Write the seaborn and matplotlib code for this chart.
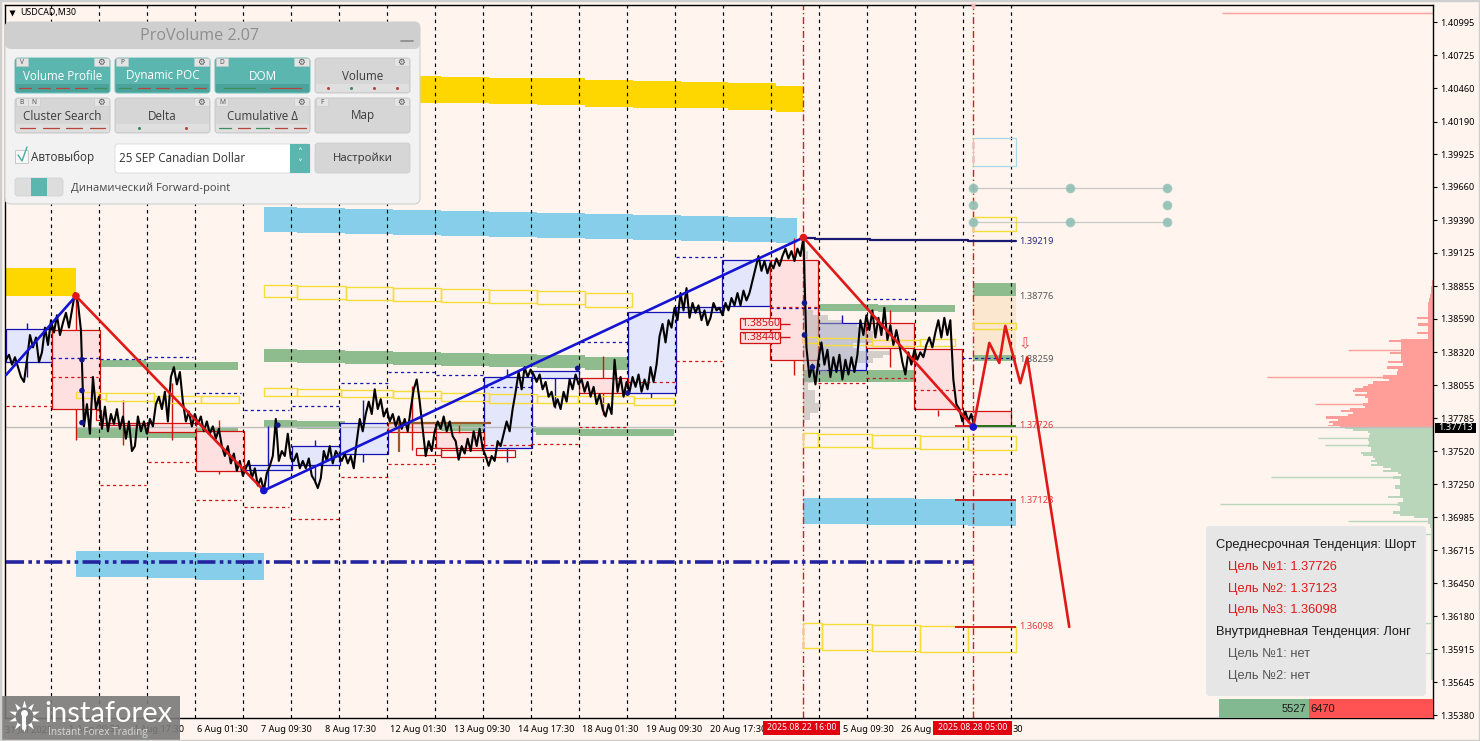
"""USDCAD M30 chart with ProVolume panel, levels, profile and forecast path."""

import matplotlib
matplotlib.use("Agg")
import matplotlib.pyplot as plt
import numpy as np
import seaborn as sns
from matplotlib.patches import FancyBboxPatch, Rectangle

# all price data below is in points above 1.3000 (1 point = 0.0001)
# close every 3 bars, first bar is 5
close_pts = [
    826, 830, 822, 828, 820, 812, 808, 826, 846, 836, 844, 824, 832, 852, 838, 858, 848, 862, 846, 856,
    864, 852, 866, 880, 872, 850, 772, 790, 766, 812, 786, 796, 770, 788, 768, 782, 774, 786, 770, 780,
    762, 776, 752, 756, 780, 768, 776, 766, 778, 772, 790, 796, 786, 800, 776, 812, 820, 806, 816, 792,
    776, 784, 772, 782, 774, 780, 768, 776, 766, 772, 762, 770, 756, 748, 756, 742, 750, 736, 744, 732,
    738, 744, 730, 738, 724, 730, 720, 734, 740, 748, 778, 744, 752, 748, 766, 746, 744, 750, 738, 744,
    738, 746, 732, 728, 722, 730, 752, 744, 756, 742, 752, 748, 744, 750, 742, 748, 738, 760, 778, 768,
    782, 792, 782, 802, 786, 794, 780, 786, 776, 782, 772, 780, 770, 778, 768, 786, 802, 810, 792, 770,
    748, 760, 752, 768, 776, 770, 780, 768, 776, 764, 760, 745, 756, 750, 762, 752, 768, 756, 770, 754,
    748, 740, 748, 744, 760, 756, 766, 776, 768, 786, 800, 816, 802, 820, 812, 818, 814, 808, 814, 802,
    808, 796, 800, 788, 794, 786, 800, 792, 810, 802, 814, 806, 810, 800, 808, 796, 804, 790, 798, 786,
    780, 790, 782, 826, 800, 812, 796, 808, 800, 812, 804, 814, 800, 810, 802, 820, 808, 822, 845, 855,
    840, 858, 852, 868, 858, 880, 866, 884, 860, 872, 864, 870, 858, 866, 854, 860, 872, 866, 868, 862,
    872, 866, 876, 870, 880, 870, 882, 874, 880, 890, 900, 910, 898, 906, 896, 904, 900, 908, 902, 910,
    916, 908, 914, 906, 916, 910, 925, 836, 812, 822, 806, 826, 840, 822, 834, 812, 828, 816, 830, 810,
    826, 814, 828, 816, 830, 858, 846, 862, 850, 866, 844, 860, 846, 868, 842, 854, 838, 850, 838, 824,
    814, 832, 822, 834, 826, 832, 828, 838, 844, 836, 848, 858, 844, 860, 846, 858, 810, 790, 786, 776,
    784, 776, 782, 772,
]

# bands and boxes: first bar, last bar, upper points, lower points
gold_bands = [
    (263, 296, 1058, 1037), (296, 344, 1057, 1036), (344, 392, 1056, 1035), (392, 440, 1056, 1034),
    (440, 488, 1055, 1034), (488, 536, 1054, 1033), (536, 584, 1054, 1032), (584, 632, 1053, 1031),
    (632, 680, 1052, 1030), (680, 728, 1051, 1030), (728, 776, 1050, 1028), (776, 803, 1048, 1027),
    (5, 75, 900, 878),
]
sky_bands = [
    (263, 296, 950, 929.5), (296, 344, 949, 929), (344, 392, 948, 928), (392, 440, 947, 927),
    (440, 488, 946.5, 926.5), (488, 536, 946, 925.5), (536, 584, 945, 925), (584, 632, 944, 924),
    (632, 680, 943, 923), (680, 728, 942.5, 922), (728, 776, 942, 921), (776, 797, 941, 920.5),
    (803, 866, 714, 693), (866, 914, 714, 692), (914, 968, 713, 692), (968, 1016, 712, 691),
    (75, 147, 671, 650), (147, 195, 670, 649), (195, 263, 669.5, 647.5),
]
green_bands = [
    (263, 296, 835, 824), (296, 344, 834, 823), (344, 392, 833, 822.5), (392, 440, 832, 822),
    (440, 488, 831.5, 821), (488, 536, 831, 820), (536, 584, 830, 819), (584, 632, 828, 818),
    (632, 673, 827.5, 816),
    (263, 296, 777, 771), (296, 344, 776, 770), (344, 440, 775, 769), (440, 488, 774, 768),
    (488, 535, 772, 767.5), (535, 578, 771, 765), (578, 673, 770, 764.5),
    (75, 145, 826, 820), (145, 237, 824, 818), (75, 195, 771.5, 762.5), (195, 237, 771, 761),
    (803, 878, 871, 865.5), (878, 955, 870, 865), (803, 915, 818, 808), (915, 953, 817, 806.5),
    (973, 1016, 888, 877.5), (973, 1016, 830, 825),
]
orange_bands = [(973, 1016, 877.5, 830)]
yellow_boxes = [
    (263, 296, 886.5, 877), (296, 345, 886, 875), (345, 392, 885, 874), (392, 440, 884, 873.5),
    (440, 488, 883, 873), (488, 536, 882.5, 872), (536, 584, 882, 871), (584, 631, 880, 869),
    (263, 296, 803, 797), (296, 340, 802, 796.5), (340, 392, 801.5, 796), (392, 440, 801, 795),
    (440, 488, 799, 792.5), (488, 536, 798, 791), (536, 577, 797, 791), (577, 633, 796.5, 791),
    (633, 673, 795, 789.5),
    (75, 97, 800, 795), (97, 105, 799, 794), (105, 153, 799, 792.5), (153, 200, 797, 791), (200, 238, 797, 791),
    (803, 818, 844.5, 839.5), (818, 872, 843.5, 838), (872, 920, 842, 837), (920, 955, 843, 837),
    (803, 818, 767, 755.5), (818, 872, 766, 755.5), (872, 920, 765, 754.5), (920, 968, 764, 753.5),
    (968, 1016, 764, 753),
    (803, 822, 613, 592.5), (822, 872, 612, 591), (872, 920, 611, 590), (920, 968, 610, 589),
    (968, 1016, 609.5, 589),
    (973, 1016, 941.5, 930), (973, 1016, 856, 851),
]
pale_blue_boxes = [(973, 1016, 1005.7, 983)]
blue_days = [
    (5, 51, 851, 824), (243, 291, 740.7, 736.7), (291, 339, 756, 741), (339, 387, 775, 750),
    (483, 531, 812, 754.5), (531, 578, 817, 811), (627, 675, 865, 799), (675, 722, 869, 865),
    (722, 770, 907, 869.5), (818, 866, 856, 818),
]
red_days = [
    (51, 99, 850, 786), (99, 147, 775, 773), (147, 195, 775, 767.5), (195, 243, 768, 736),
    (387, 435, 775, 767.5), (435, 483, 767.5, 754.5), (578, 627, 811, 799), (770, 818, 907, 826),
    (866, 914, 856, 835.5), (914, 962, 835, 786), (963, 1011, 784.5, 772),
]
red_hollow = [(415, 440, 754.5, 749), (440, 514, 753, 747), (95, 100, 785, 777)]
label_boxes = [(740, 780, 859.8, 850.9), (740, 780, 848.5, 839.6)]

# wicks: bar, upper points, lower points
red_wicks = [
    (75, 878, 850), (75, 786, 761), (122, 793, 757), (171, 807, 761), (218, 777, 768), (218, 736, 733.5),
    (411, 805, 753), (458, 773, 767), (602, 829, 811), (602, 799, 781), (794, 925, 907), (794, 826, 813.5),
    (890, 866, 856), (890, 835.5, 820), (938, 785, 780),
]
blue_wicks = [
    (26, 856, 851), (26, 824, 812), (267, 772, 741), (267, 737, 722), (314, 761, 756), (314, 741, 726),
    (362, 793, 775), (362, 750, 743), (506, 818.5, 812), (506, 754.5, 743), (554, 811, 787), (650, 799, 795),
    (842, 862, 856), (842, 818, 815.5),
]

# short dashed levels: first bar, last bar, points
blue_dashes = [
    (51, 97, 827.4), (99, 145, 826.6), (147, 192, 828), (195, 240, 799), (243, 288, 785), (291, 338, 788.5),
    (340, 387, 807), (387, 435, 816), (435, 483, 813.5), (483, 530, 804), (580, 627, 840.4), (675, 722, 909),
    (867, 914, 875), (770, 818, 868), (962, 1016, 827.5),
]
red_dashes = [
    (5, 51, 788.5), (51, 97, 812), (99, 145, 724.5), (147, 192, 743), (195, 240, 712), (243, 288, 707),
    (291, 338, 697), (340, 387, 731), (387, 435, 741.5), (483, 530, 757), (530, 578, 758), (578, 627, 771.5),
    (627, 675, 808), (675, 722, 825), (770, 818, 868.5), (818, 866, 807), (866, 914, 811), (914, 962, 801.5),
    (973, 1010, 733),
]

# trend legs and forecast path
blue_leg_a = ([5, 75], [813.6, 877.6])
blue_leg_b = ([263, 803], [720, 925])
red_leg_a = ([75, 263], [877.6, 720])
red_leg_b = ([803, 973, 989, 999, 1005, 1020, 1027, 1069], [925, 771.5, 839.6, 823.4, 853.4, 807, 828, 609.5])
navy_bars = [803, 815, 870, 968, 1016]
navy_pts = [924.6, 923.8, 923, 922, 922]
navy_dots = ([81, 81, 81, 277, 804, 804, 812, 577, 627], [826, 801, 775, 773, 872, 846, 820, 819, 799])
pivot_dots = ([973, 1070, 1167, 973, 1167, 973, 1070, 1167], [965.5, 965.5, 965.5, 951.5, 951.5, 937.5, 937.5, 937.5])

# volume profile at the right edge (points, width in bars)
ask_pts = [
    771.5, 772.3, 774, 775.6, 777.2, 778.8, 781.2, 782.8, 784.5, 786.1, 787.7, 789.3, 792.6, 794.2, 795.8, 797.4,
    799.1, 800.7, 802.3, 803.9, 805.5, 807.2, 809.6, 811.2, 815.3, 817.7, 819.3, 821.7, 824.2, 825.8, 827.4, 829.9,
    831.5, 833.1, 835.5, 837.1, 839.6, 841.2, 842, 843.6, 846.1, 847.7, 849.3, 851.7, 854.2, 856.6, 858.2, 859.8,
    861.4, 864.7, 867.9, 871.2, 874.4, 877.6, 880.9, 884.1, 887.4, 890.6,
]
ask_vol = [
    93, 105, 100, 104, 95, 107, 85, 80, 92, 83, 68, 70, 65, 65, 68, 78,
    66, 80, 78, 70, 65, 60, 44, 50, 36, 35, 46, 30, 45, 32, 32, 32,
    43, 32, 32, 32, 32, 44, 32, 5, 5, 16, 5, 5, 15, 5, 5, 16,
    5, 5, 5, 5, 4, 3, 2, 2, 1, 1,
]
ask_spike_pts = [812.3, 834.1, 790.5, 1107]
ask_spike_vol = [166, 85, 118, 211]
bid_pts = [
    770.7, 769.1, 767.5, 765.8, 764.2, 761, 759.4, 756.1, 753.7, 752, 750.4, 748.8, 747.2, 745.6, 744, 742.3,
    740.7, 739.1, 737.5, 735.9, 734.2, 732.6, 730.2, 728.6, 725.3, 722.9, 719.6, 716.4, 714.8, 712.4, 708.3, 706.7,
    704.3, 701.8, 700.2, 698.6, 696.1, 693.7, 691.3, 688, 663.7, 631.3, 598.9, 566.5,
]
bid_vol = [
    88, 80, 65, 63, 64, 65, 64, 65, 62, 62, 72, 70, 60, 58, 62, 56,
    62, 50, 42, 50, 35, 32, 40, 33, 33, 38, 33, 33, 45, 30, 35, 33,
    33, 40, 33, 19, 5, 5, 3, 2, 2, 2, 2, 2,
]
bid_spike_pts = [762.2, 757.3, 731.2, 709.3, 695.3, 684.8, 612.7, 588.4]
bid_spike_vol = [115, 108, 162, 213, 85, 85, 29, 29]

# session profile that starts at bar 803
session_pts = [
    917.4, 910.9, 904.4, 890.6, 872, 868.8, 863.9, 859.8, 855.8, 854.2, 850.1, 847.7, 842, 836.3,
    833.9, 831.5, 828.2, 825.8, 820.1, 815.3, 809.6, 803.9, 799.1, 793.4, 787.7, 785.3, 779.6, 774.7,
]
session_vol = [
    3, 5, 3, 2, 2, 4, 10, 25, 40, 54, 60, 70, 70, 50,
    55, 87, 80, 70, 47, 24, 10, 5, 12, 12, 18, 15, 7, 2,
]

y_ticks = [
    1.40995, 1.40725, 1.40460, 1.40190, 1.39925, 1.39660, 1.39390, 1.39125, 1.38855, 1.38590, 1.38320,
    1.38055, 1.37785, 1.37520, 1.37250, 1.36985, 1.36715, 1.36450, 1.36180, 1.35915, 1.35645, 1.35380,
]
# the last labels show only the part that the time tags leave free
x_tick_bars = [4, 68, 132, 196, 260, 324, 389, 453, 517, 581, 645, 709, 843, 901, 1012]
x_tick_labels = [
    "31 Jul 2025", "1 Aug 09:30", "4 Aug 17:30", "6 Aug 01:30", "7 Aug 09:30", "8 Aug 17:30", "12 Aug 01:30",
    "13 Aug 09:30", "14 Aug 17:30", "18 Aug 01:30", "19 Aug 09:30", "20 Aug 17:30",
    "5 Aug 09:30", "26 Aug", "30",
]
day_bars = [50.5 + 48 * i for i in range(21)]
signal_bars = [803, 973]
last_price = 1.37713
target_levels = [1.39219, 1.38776, 1.38259, 1.37726, 1.37123, 1.36098]
target_labels = ["1.39219", "1.38776", "1.38259", "1.37726", "1.37123", "1.36098"]
target_colors = ["#24248a", "#555555", "#555555", "#e03a3a", "#e03a3a", "#e03a3a"]
info_lines = [
    "Среднесрочная Тенденция: Шорт", "Цель №1: 1.37726", "Цель №2: 1.37123", "Цель №3: 1.36098",
    "Внутридневная Тенденция: Лонг", "Цель №1: нет", "Цель №2: нет",
]
info_colors = ["#1a1a1a", "#e01818", "#e01818", "#e01818", "#1a1a1a", "#555555", "#555555"]
buy_total, sell_total = 5527, 6470

BG = "#FFF5EE"
RIGHT_BAR = 1433


def price(pts):
    """Convert points above 1.3000 to price."""
    return 1.3 + np.asarray(pts, dtype=float) / 1e4


def draw_boxes(ax, boxes, face, edge, lw=1.2, zorder=2.0):
    """Draw rectangles given as (x0, x1, upper, lower) in points."""
    for x0, x1, hi, lo in boxes:
        ax.add_patch(Rectangle((x0, price(lo)), x1 - x0, price(hi) - price(lo),
                               facecolor=face, edgecolor=edge, linewidth=lw, zorder=zorder))


def draw_line(ax, xs, pts, color, lw, zorder=5):
    sns.lineplot(x=xs, y=price(pts), ax=ax, color=color, linewidth=lw, estimator=None,
                 sort=False, errorbar=None, zorder=zorder, legend=False)


def draw_price_chart(ax):
    draw_boxes(ax, orange_bands, "#FBE7CF", "none", 0, 1.0)
    draw_boxes(ax, gold_bands, "#FFD700", "none", 0, 1.1)
    draw_boxes(ax, sky_bands, "#87CEEB", "none", 0, 1.1)
    draw_boxes(ax, green_bands, "#8FBC8F", "none", 0, 1.1)

    ax.fill_betweenx(price(ask_pts), RIGHT_BAR - np.array(ask_vol), RIGHT_BAR, step="mid",
                     color="#FF9E98", linewidth=0, zorder=1.3)
    ax.fill_betweenx(price(bid_pts), RIGHT_BAR - np.array(bid_vol), RIGHT_BAR, step="mid",
                     color="#B9D5BA", linewidth=0, zorder=1.3)
    ax.hlines(price(ask_spike_pts), RIGHT_BAR - np.array(ask_spike_vol), RIGHT_BAR, color="#FF9E98", lw=1, zorder=1.3)
    ax.hlines(price(bid_spike_pts), RIGHT_BAR - np.array(bid_spike_vol), RIGHT_BAR, color="#B9D5BA", lw=1, zorder=1.3)

    draw_boxes(ax, blue_days, "#E4E6FB", "#1414B4", 0.9, 1.6)
    draw_boxes(ax, red_days, "#FFE0E0", "#D01414", 0.9, 1.6)
    # session profile shows through the day boxes
    ax.fill_betweenx(price(session_pts), 803, 803 + np.array(session_vol), step="mid",
                     color="#a8a8a8", alpha=0.5, linewidth=0, zorder=1.8)
    draw_boxes(ax, yellow_boxes, "none", "#F5DC3A", 1.0, 3)
    draw_boxes(ax, pale_blue_boxes, "none", "#A8D8EA", 0.9, 3)
    draw_boxes(ax, red_hollow, "none", "#D01414", 0.9, 3)
    draw_boxes(ax, label_boxes, "#FFE0E0", "#D01414", 0.9, 3)

    ax.vlines(day_bars, 0, 1, transform=ax.get_xaxis_transform(), color="black", lw=0.85,
              linestyles=(0, (3, 3.2)), zorder=2.4)
    ax.vlines(signal_bars, 0, 1, transform=ax.get_xaxis_transform(), color="#E01818", lw=1.0,
              linestyles=(0, (5, 2, 1, 2)), zorder=2.5)
    ax.axhline(last_price, color="#BDBDBD", lw=1.0, zorder=2.5)

    for x, hi, lo in red_wicks:
        ax.vlines(x, price(lo), price(hi), color="#D01414", lw=1.0, zorder=2.6)
    for x, hi, lo in blue_wicks:
        ax.vlines(x, price(lo), price(hi), color="#1414B4", lw=1.0, zorder=2.6)
    for x0, x1, level in blue_dashes:
        ax.hlines(price(level), x0, x1, color="#1414B4", lw=0.9, linestyles=(0, (2.5, 2.5)), zorder=2.6)
    for x0, x1, level in red_dashes:
        ax.hlines(price(level), x0, x1, color="#D01414", lw=0.9, linestyles=(0, (2.5, 2.5)), zorder=2.6)

    # brown level and its stem
    ax.hlines(price(775), 388, 490, color="#9A5A2A", lw=1.6, zorder=2.7)
    ax.vlines(398, price(751.5), price(775), color="#9A5A2A", lw=1.6, zorder=2.7)
    # long dash-dot level
    ax.hlines(price(662), 5, 973, color="#2424A0", lw=2.6, linestyles=(0, (5, 1.2, 1, 1.2, 1, 1.2)), zorder=2.7)

    ax.hlines(price([855.3, 844]), 780, 790, color="#D01414", lw=1.0, zorder=2.7)
    ax.text(760, price(855.3), "1.38560", color="#D01414", fontsize=7.6, ha="center", va="center", zorder=6)
    ax.text(760, price(844), "1.38440", color="#D01414", fontsize=7.6, ha="center", va="center", zorder=6)

    draw_line(ax, 5 + 3 * np.arange(len(close_pts)), close_pts, "black", 1.5, 4)

    ax.plot(navy_bars, price(navy_pts), drawstyle="steps-post", color="#191970", lw=1.6, zorder=4.5)
    ax.hlines(last_price + 0.00013, 955, 1016, color="#D01414", lw=1.3, zorder=4.5)
    ax.hlines(last_price + 0.00013, 973, 1016, color="#1E7A1E", lw=1.3, zorder=4.5)
    ax.hlines([1.37123, 1.36098], 955, 1016, color="#D01414", lw=1.3, zorder=4.5)

    draw_line(ax, blue_leg_a[0], blue_leg_a[1], "#1414D2", 1.9)
    draw_line(ax, blue_leg_b[0], blue_leg_b[1], "#1414D2", 1.9)
    draw_line(ax, red_leg_a[0], red_leg_a[1], "#E01818", 1.9)
    draw_line(ax, red_leg_b[0], red_leg_b[1], "#E01818", 1.9)

    ax.hlines(price([965.5, 937.5]), 973, 1167, color="#C8C8C8", lw=0.9, zorder=3)
    sns.scatterplot(x=pivot_dots[0], y=price(pivot_dots[1]), ax=ax, s=42, color="#8FBFB5", edgecolor="#A5CCC4",
                    alpha=0.9, zorder=3.2, legend=False)
    sns.scatterplot(x=navy_dots[0], y=price(navy_dots[1]), ax=ax, s=16, color="#14148C", edgecolor="none",
                    zorder=5.2, legend=False)
    sns.scatterplot(x=[75, 803], y=price([877.6, 925]), ax=ax, s=30, color="#E01818", edgecolor="none",
                    zorder=5.4, legend=False)
    sns.scatterplot(x=[263, 973], y=price([720, 771.5]), ax=ax, s=30, color="#1414D2", edgecolor="none",
                    zorder=5.4, legend=False)

    for level, label, color in zip(target_levels, target_labels, target_colors):
        ax.text(1019, level, label, color=color, fontsize=6.6, va="center", ha="left", zorder=6)


def button(ui, x0, y0, x1, y1, label, active, tabs, marks):
    """One ProVolume button: body, tab letters, gear, caption, indicators."""
    body = "#5BB6AF" if active else "#D6D6D6"
    ui.add_patch(FancyBboxPatch((x0 + 2, y0 + 2), x1 - x0 - 4, y1 - y0 - 4, boxstyle="round,pad=2,rounding_size=3",
                                facecolor=body, edgecolor="#C4C4C4" if not active else body, lw=0.6, zorder=21))
    ui.text((x0 + x1) / 2, y0 + 18, label, fontsize=8.4, ha="center", va="center", zorder=23,
            color="white" if active else "#3c3c3c", family="Open Sans")
    ui.add_patch(Rectangle((x1 - 16, y0), 15, 8, facecolor="#E4E4E4", edgecolor="#C8C8C8", lw=0.4, zorder=22))
    ui.text(x1 - 9, y0 + 4.2, "\u2699", fontsize=6.2, ha="center", va="center", color="#555555", zorder=23,
            family="DejaVu Sans")
    for k, letter in enumerate(tabs):
        ui.add_patch(Rectangle((x0 + 1 + 12 * k, y0), 12, 8, facecolor="#E4E4E4", edgecolor="#C8C8C8", lw=0.4, zorder=22))
        ui.text(x0 + 7 + 12 * k, y0 + 4, letter, fontsize=4.8, ha="center", va="center", color="#555555", zorder=23)
    if not marks:
        return
    strip = "#4BA39C" if active else "#DFDFDF"
    ui.add_patch(Rectangle((x0 + 1, y1 - 9), x1 - x0 - 2, 8, facecolor=strip, edgecolor="none", zorder=22))
    step = (x1 - x0 - 2) / len(marks)
    for k, (kind, color) in enumerate(marks):
        cx = x0 + 1 + step * (k + 0.5)
        if kind == "-":
            half = step * 0.33
            ui.plot([cx - half, cx + half], [y1 - 5, y1 - 5], color=color, lw=0.9, zorder=23)
        else:
            ui.plot([cx], [y1 - 5], "o", ms=2.2, color=color, mec="none", zorder=23)


def draw_panel(ui):
    ui.add_patch(FancyBboxPatch((8, 25), 409, 176, boxstyle="round,pad=3,rounding_size=6",
                                facecolor="#F2F2F2", edgecolor="#D0D0D0", lw=0.8, zorder=20))
    ui.add_patch(FancyBboxPatch((8, 25), 409, 21, boxstyle="round,pad=3,rounding_size=6",
                                facecolor="#CFCFCF", edgecolor="none", zorder=20.5))
    ui.text(200, 36, "ProVolume 2.07", fontsize=11.6, color="#8E8E8E", ha="center", va="center", zorder=23,
            family="Open Sans")
    ui.plot([401, 413], [40.5, 40.5], color="#8E8E8E", lw=1.3, zorder=23)
    red, green = "#B5453A", "#3E8E5A"
    button(ui, 15, 58, 110, 93, "Volume Profile", True, "V", [("-", red)] * 4 + [("-", green)])
    button(ui, 115, 58, 210, 93, "Dynamic POC", True, "P", [("-", green)] + [("-", red)] * 4)
    button(ui, 215, 58, 310, 93, "DOM", True, "D", [("-", green), ("-", red)])
    button(ui, 315, 58, 410, 93, "Volume", False, "", [("o", red), ("o", green), ("o", red), ("o", red)])
    button(ui, 15, 98, 110, 133, "Cluster Search", False, "BN", [("-", red)] * 4)
    button(ui, 115, 98, 210, 133, "Delta", False, "", [("o", green), ("o", red)])
    button(ui, 215, 98, 310, 133, "Cumulative \u0394", False, "M",
           [("-", green), ("-", red), ("-", green), ("-", red), ("-", red)])
    button(ui, 315, 98, 410, 133, "Map", False, "F", [])
    ui.add_patch(Rectangle((15, 150), 13, 13, facecolor="#F8F8F8", edgecolor="#C8C8C8", lw=0.7, zorder=21))
    ui.plot([18, 22, 27], [155, 161, 147], color="#45ADA5", lw=1.0, zorder=23)
    ui.text(31, 157, "Автовыбор", fontsize=8.4, va="center", color="#333333", family="Open Sans", zorder=23)
    ui.add_patch(FancyBboxPatch((117, 146), 191, 25, boxstyle="round,pad=2,rounding_size=3", facecolor="white",
                                edgecolor="#DADADA", lw=0.6, zorder=21))
    ui.add_patch(Rectangle((290, 144), 20, 29, facecolor="#5BB6AF", edgecolor="none", zorder=22))
    ui.text(300, 153, "\u02c4", fontsize=7, color="white", ha="center", va="center", zorder=23, family="DejaVu Sans")
    ui.text(300, 164, "\u02c5", fontsize=7, color="white", ha="center", va="center", zorder=23, family="DejaVu Sans")
    ui.text(119, 158.5, "25 SEP Canadian Dollar", fontsize=8.4, va="center", color="#333333", family="Open Sans", zorder=23)
    ui.add_patch(FancyBboxPatch((317, 145), 91, 26, boxstyle="round,pad=2,rounding_size=3", facecolor="#D6D6D6",
                                edgecolor="#C8C8C8", lw=0.5, zorder=21))
    ui.text(362.5, 158.5, "Настройки", fontsize=8.2, ha="center", va="center", color="#333333", family="Open Sans", zorder=23)
    ui.add_patch(FancyBboxPatch((17, 180), 44, 14, boxstyle="round,pad=2,rounding_size=3", facecolor="#DDDDDD",
                                edgecolor="#CFCFCF", lw=0.5, zorder=21))
    ui.add_patch(Rectangle((31, 178), 16, 18, facecolor="#5BB6AF", edgecolor="none", zorder=22))
    ui.text(71, 188, "Динамический Forward-point", fontsize=8, va="center", color="#444444", family="Open Sans", zorder=23)


def draw_overlays(ui):
    # chart name
    ui.plot([11.5], [12.5], "v", ms=4, color="black", mec="none", zorder=15)
    ui.text(20, 12.5, "USDCAD,M30", fontsize=6.4, va="center", color="black", zorder=15)
    ui.plot([973], [6], "v", ms=5, color="#F4B8B8", mec="none", zorder=15)
    ui.text(1025, 344, "\u21e9", fontsize=11, color="#E05050", ha="center", va="center", family="DejaVu Sans", zorder=15)

    # targets box
    ui.add_patch(FancyBboxPatch((1209, 529), 214, 164, boxstyle="round,pad=3,rounding_size=4", facecolor="#E6E6E6",
                                edgecolor="none", zorder=16))
    for k, (line, color) in enumerate(zip(info_lines, info_colors)):
        indent = 1216 if k in (0, 4) else 1228
        ui.text(indent, 545 + 21.8 * k, line, color=color, fontsize=9.25, va="center", family="Liberation Sans", zorder=17)

    # buy / sell bar
    split = 1219 + (RIGHT_BAR - 1219) * buy_total / (buy_total + sell_total + 1200)
    ui.add_patch(Rectangle((1219, 699), split - 1219, 19, facecolor="#82B991", edgecolor="none", zorder=16))
    ui.add_patch(Rectangle((split, 699), RIGHT_BAR - split, 19, facecolor="#FF5252", edgecolor="none", zorder=16))
    ui.text(split - 2, 709, str(buy_total), fontsize=8, ha="right", va="center", color="#1a1a1a", family="Liberation Sans", zorder=17)
    ui.text(split + 2, 709, str(sell_total), fontsize=8, ha="left", va="center", color="#1a1a1a", family="Liberation Sans", zorder=17)

    # last price tag and signal time tags
    ui.add_patch(Rectangle((1435, 423), 41, 10, facecolor="black", edgecolor="none", zorder=16))
    ui.text(1455.5, 428, "1.37713", fontsize=6.8, color="white", ha="center", va="center", zorder=17)
    for x0, x1, stamp in [(763, 840, "2025.08.22 16:00"), (933, 1012, "2025.08.28 05:00")]:
        ui.add_patch(Rectangle((x0, 721), x1 - x0, 14, facecolor="#E00010", edgecolor="none", zorder=16))
        ui.text((x0 + x1) / 2, 728, stamp, fontsize=6.3, color="white", ha="center", va="center", zorder=17)

    # watermark
    ui.add_patch(Rectangle((0, 696), 180, 45, facecolor="#7A7A7A", edgecolor="none", alpha=0.9, zorder=18))
    ui.plot([24], [716], marker=(10, 1, 0), ms=23, color="white", mec="none", zorder=19)
    ui.plot([24], [716], "o", ms=13, color="#7A7A7A", mec="none", zorder=19.1)
    ui.plot([24], [713], "o", ms=5, color="white", mec="none", zorder=19.2)
    ui.plot([24, 24], [716, 728], color="white", lw=3, zorder=19.2)
    ui.text(44, 714, "instaforex", fontsize=21, color="white", va="center", family="Lato", zorder=19.3)
    ui.text(48, 732.5, "Instant Forex Trading", fontsize=7.2, color="#D8D8D8", va="center", family="Open Sans", zorder=19.3)


def main() -> None:
    sns.set_theme(style="white")
    plt.rcParams["font.family"] = ["Noto Sans", "DejaVu Sans"]
    fig = plt.figure(figsize=(14.8, 7.41), dpi=100, facecolor=BG)
    fig.add_artist(Rectangle((0, 0), 1, 1, transform=fig.transFigure, facecolor="none", edgecolor="#CFCFCF", lw=2.5))

    ax = fig.add_axes([5 / 1480, 1 - 718 / 741, 1428 / 1480, 713 / 741], facecolor=BG)
    draw_price_chart(ax)
    ax.set_xlim(5, RIGHT_BAR)
    ax.set_ylim(1.35357, 1.41134)
    ax.set_xlabel("")
    ax.set_ylabel("")
    ax.yaxis.tick_right()
    ax.set_yticks(y_ticks, [f"{t:.5f}" for t in y_ticks])
    ax.set_xticks(x_tick_bars, x_tick_labels, ha="left")
    ax.tick_params(axis="y", length=3, width=0.8, pad=2, labelsize=6.6, colors="black", right=True, left=False)
    ax.tick_params(axis="x", length=0, pad=5, labelsize=6.6, colors="black", bottom=True)
    for spine in ax.spines.values():
        spine.set_color("black")
        spine.set_linewidth(1.0)
        spine.set_visible(True)

    ui = fig.add_axes([0, 0, 1, 1], facecolor="none")
    ui.set_xlim(0, 1480)
    ui.set_ylim(741, 0)
    ui.axis("off")
    draw_panel(ui)
    draw_overlays(ui)

    fig.savefig("out.png", dpi=100, facecolor=BG)


if __name__ == "__main__":
    main()
